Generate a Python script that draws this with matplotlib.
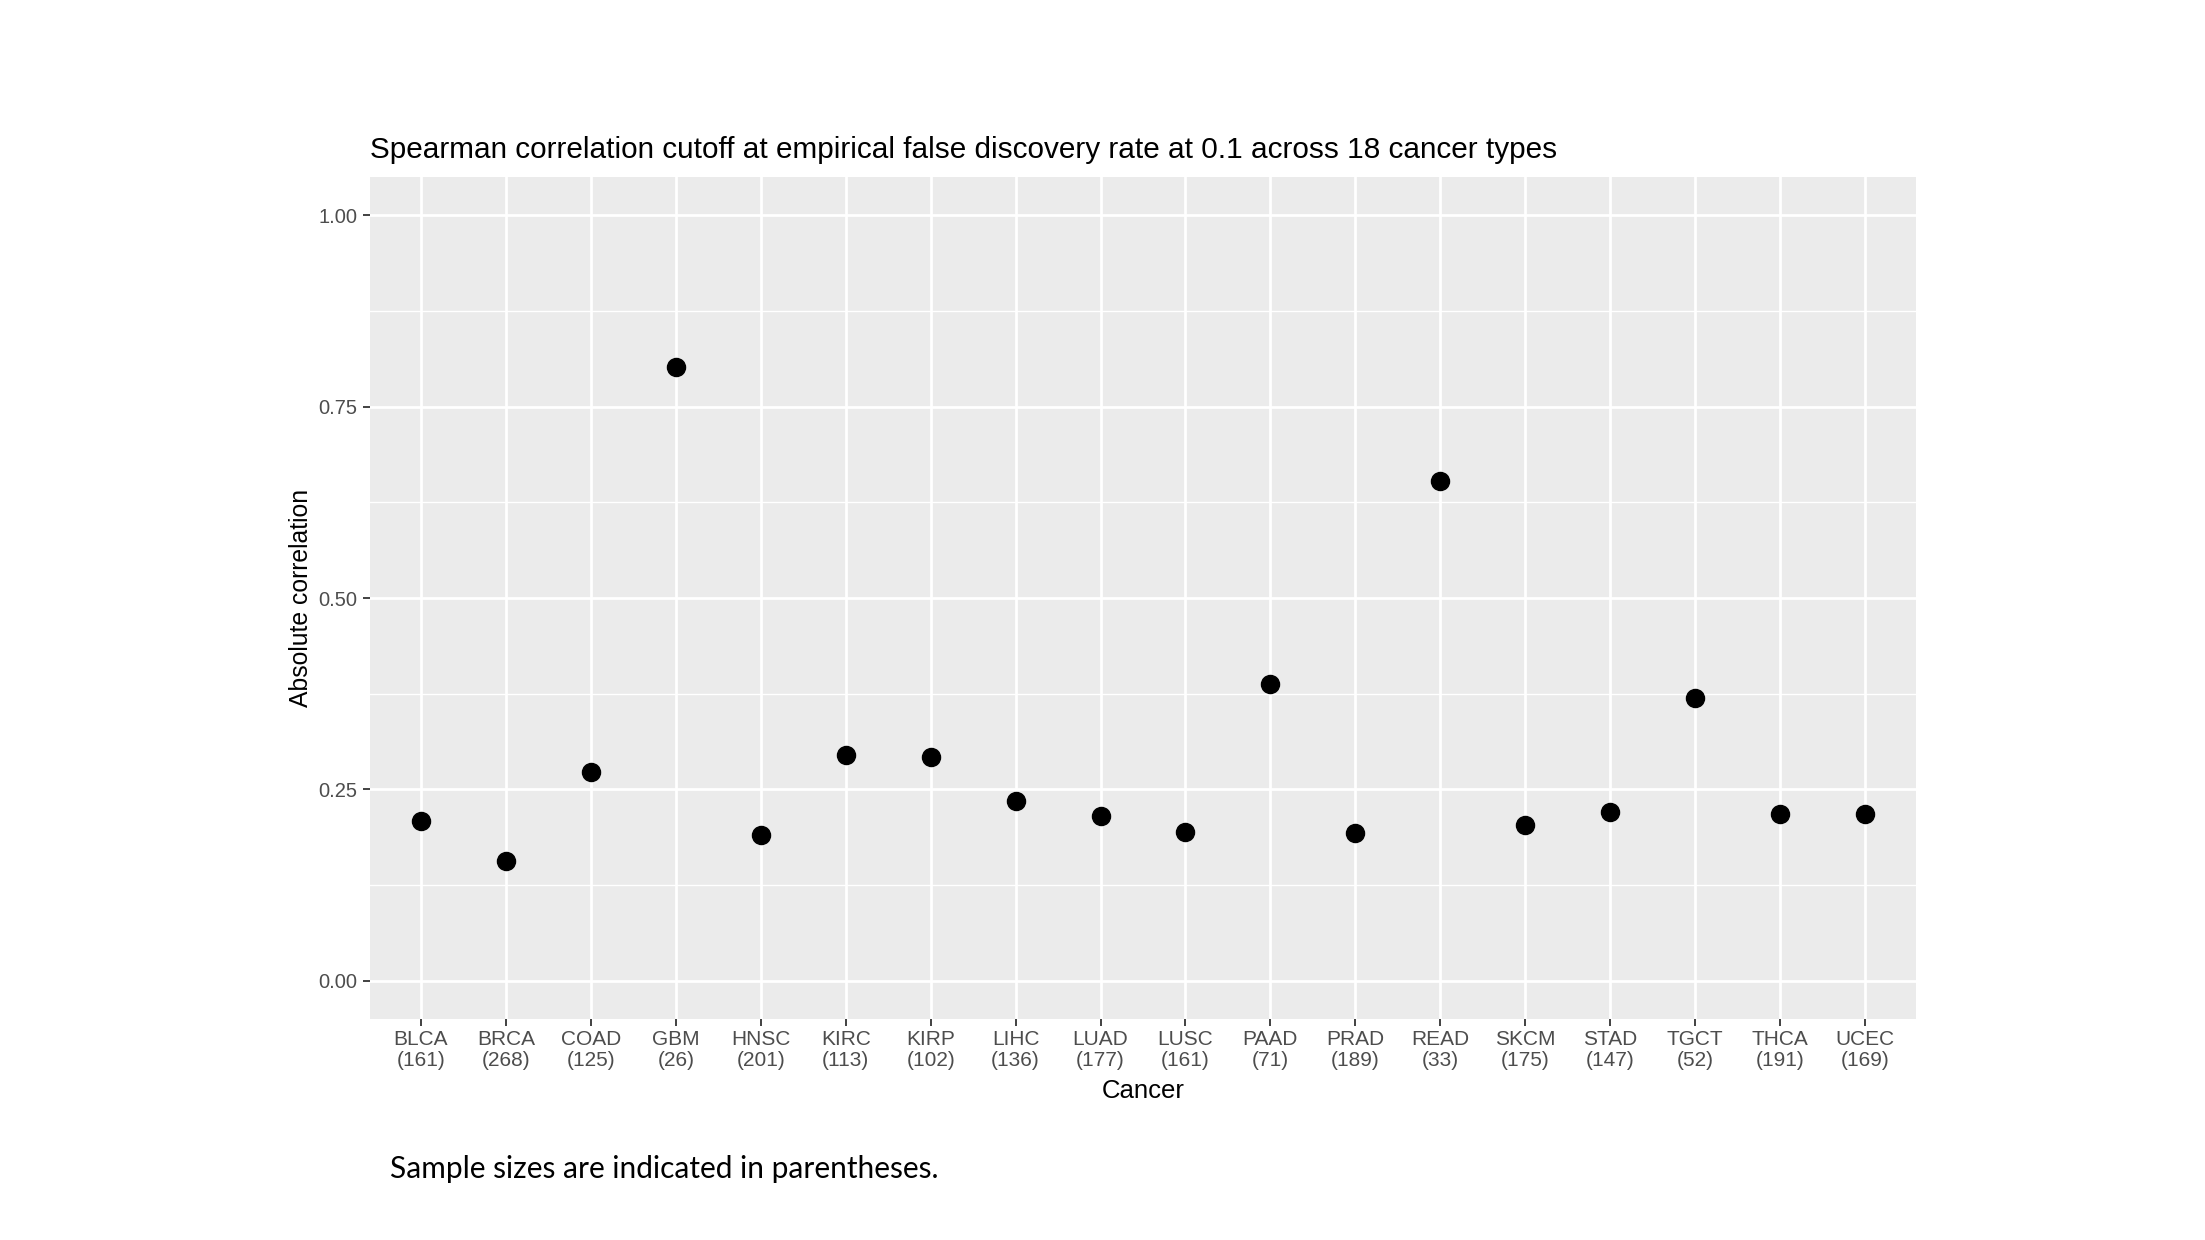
import matplotlib
matplotlib.use("Agg")
import matplotlib.pyplot as plt
from matplotlib.ticker import FixedLocator

cancers = ["BLCA", "BRCA", "COAD", "GBM", "HNSC", "KIRC", "KIRP", "LIHC", "LUAD",
           "LUSC", "PAAD", "PRAD", "READ", "SKCM", "STAD", "TGCT", "THCA", "UCEC"]
sample_sizes = [161, 268, 125, 26, 201, 113, 102, 136, 177,
                161, 71, 189, 33, 175, 147, 52, 191, 169]
abs_corr = [0.209, 0.156, 0.273, 0.802, 0.191, 0.295, 0.292, 0.235, 0.215,
            0.194, 0.387, 0.193, 0.653, 0.204, 0.220, 0.369, 0.218, 0.218]
y_ticks = [0.00, 0.25, 0.50, 0.75, 1.00]

plt.rcParams['font.family'] = ['Liberation Sans', 'DejaVu Sans']

W, H = 2205, 1240
fig = plt.figure(figsize=(W/100, H/100), dpi=100)
L, R, T, B = 370, 1916, 177, 1019
ax = fig.add_axes([L/W, 1-B/H, (R-L)/W, (B-T)/H])
ax.set_facecolor("#EBEBEB")
for s in ax.spines.values():
    s.set_visible(False)

x = list(range(1, len(cancers) + 1))
ax.set_xlim(0.4, len(cancers) + 0.6)
ax.set_ylim(-0.05, 1.05)

ax.yaxis.set_major_locator(FixedLocator(y_ticks))
ax.yaxis.set_minor_locator(FixedLocator([0.125, 0.375, 0.625, 0.875]))
ax.set_xticks(x)
ax.set_xticklabels([f"{c}\n({n})" for c, n in zip(cancers, sample_sizes)],
                   linespacing=1.15)
ax.set_yticklabels([f"{v:.2f}" for v in y_ticks])

ax.grid(which="major", color="white", linewidth=2.0)
ax.grid(which="minor", axis="y", color="white", linewidth=1.0)
ax.set_axisbelow(True)

ax.tick_params(axis="both", which="major", length=5, width=1.3, color="#333333",
               labelcolor="#4D4D4D")
ax.tick_params(axis="x", labelsize=15, pad=3)
ax.tick_params(axis="y", labelsize=14.5, pad=4)
ax.tick_params(which="minor", length=0)

ax.plot(x, abs_corr, linestyle="none", marker="o", markersize=13,
        color="black", zorder=3)

ax.set_xlabel("Cancer", fontsize=18.5, color="black", labelpad=6)
ax.set_ylabel("Absolute correlation", fontsize=17.8, color="black", labelpad=4)

fig.text(L/W, 1-158/H, "Spearman correlation cutoff at empirical false discovery rate at 0.1 across 18 cancer types",
         fontsize=21.4, color="black", ha="left", va="baseline")

fig.text(390/W, 1-1169/H, "Sample sizes are indicated in parentheses.",
         fontsize=21.5, family=["Lato", "DejaVu Sans"], color="black", ha="left", va="center")

fig.savefig("out.png", dpi=100, facecolor="white")
